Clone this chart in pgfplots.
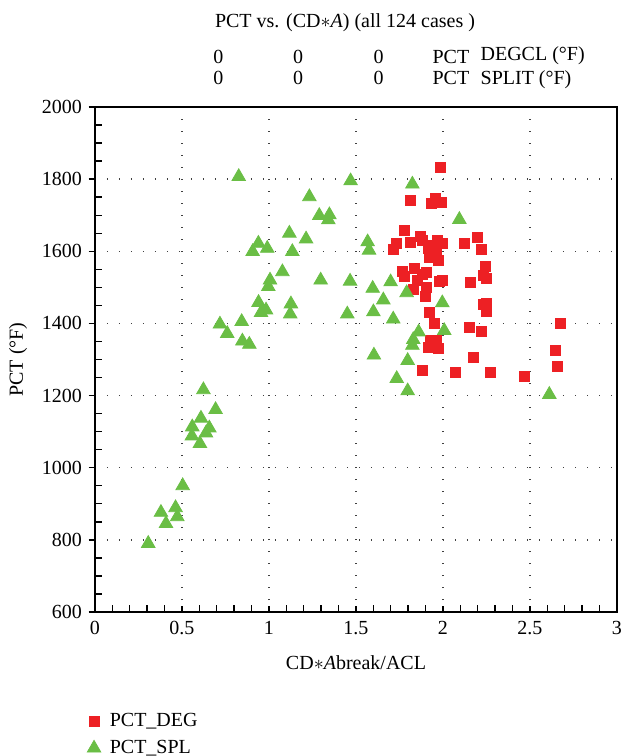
\documentclass[border=0pt]{standalone}
\usepackage{fontspec}
\setmainfont{Liberation Serif}
\usepackage{pgfplots}
\pgfplotsset{compat=1.18}
\definecolor{pctred}{RGB}{237,32,36}
\definecolor{pctgreen}{RGB}{106,190,69}
\begin{document}
\begin{tikzpicture}
\begin{axis}[
  name=ax,
  at={(0,0)}, anchor=south west,
  scale only axis,
  width=261pt, height=252.5pt,
  xmin=0, xmax=3, ymin=600, ymax=2000,
  xtick={0,0.5,...,3}, ytick={600,800,...,2000},
  minor x tick num=4, minor y tick num=3,
  tick pos=left,
  tick align=inside,
  major tick length=3.2pt, minor tick length=3.5pt,
  major y tick style={xshift=-3.2pt},
  yticklabel style={xshift=-3pt},
  xticklabel style={yshift=-1pt},
  axis line style={line width=0.8pt},
  every tick/.style={black, line width=0.7pt},
  grid=major,
  major grid style={black!75, line width=0.7pt, dash pattern=on 0.6pt off 5.4pt},
  /pgf/number format/assume math mode=true,
  /pgf/number format/1000 sep={},
  xlabel={CD$\ast$\textit{A}break/ACL},
  ylabel={PCT (°F)},
  xlabel style={at={(axis description cs:0.5,-0.101)}, anchor=center},
  ylabel style={at={(axis description cs:-0.1475,0.5)}, anchor=center, rotate=0},
  legend style={at={(axis description cs:-0.027,-0.183)}, anchor=north west, draw=none, fill=none, row sep=1.5pt, column sep=2.5pt, font=\normalsize},
  legend cell align=left,
  clip=false,
]
\addplot[only marks, mark=square*, mark size=2.5pt, color=pctred] table {
x y
1.983 1833
1.812 1740
1.954 1747
1.931 1733
1.992 1736
1.776 1658
1.872 1641
1.881 1631
1.810 1625
1.734 1621
1.713 1604
1.969 1631
1.998 1622
2.125 1622
2.195 1639
2.222 1606
1.916 1607
1.964 1595
1.922 1583
1.973 1576
1.940 1615
1.950 1590
1.768 1544
1.776 1530
1.837 1553
1.906 1542
1.883 1536
1.851 1518
1.977 1516
1.998 1520
1.829 1493
1.904 1500
1.900 1474
2.155 1514
2.241 1559
2.232 1532
2.251 1525
1.921 1431
1.948 1400
2.232 1453
2.251 1456
2.251 1433
2.153 1389
2.222 1378
1.925 1354
1.964 1354
1.916 1333
1.975 1332
1.945 1340
2.176 1306
1.883 1271
2.073 1265
2.270 1265
2.466 1254
2.676 1400
2.644 1326
2.659 1282
};
\addlegendentry{PCT\_DEG}
\addplot[only marks, mark=triangle*, mark size=3.9pt, color=pctgreen] table {
x y
0.826 1807
1.469 1795
1.232 1751
1.289 1699
1.347 1701
1.341 1687
1.117 1650
1.213 1634
0.939 1622
0.990 1608
0.906 1599
1.134 1599
1.567 1626
1.575 1603
1.077 1543
1.006 1520
0.996 1502
1.297 1520
1.466 1517
1.596 1497
0.940 1458
0.983 1437
0.954 1430
1.126 1454
1.122 1426
1.450 1426
1.600 1432
0.718 1398
0.843 1405
0.760 1372
0.847 1351
0.887 1342
0.623 1216
0.693 1161
0.609 1137
0.559 1113
0.657 1110
0.557 1088
0.638 1096
0.603 1067
0.504 950
0.379 876
0.463 889
0.473 864
0.408 845
0.306 790
1.824 1786
2.094 1688
1.699 1515
1.791 1485
1.657 1465
1.996 1457
1.714 1412
1.860 1376
2.007 1380
1.829 1355
1.824 1339
1.603 1312
1.797 1297
1.734 1247
1.797 1213
2.611 1203
};
\addlegendentry{PCT\_SPL}
\node[anchor=base] at (axis description cs:0.479,1.158) {PCT vs. (CD$\ast$\textit{A}) (all 124 cases )};
\node[anchor=base west, inner sep=0pt] at (axis description cs:0.226,1.087) {0};
\node[anchor=base west, inner sep=0pt] at (axis description cs:0.379,1.087) {0};
\node[anchor=base west, inner sep=0pt] at (axis description cs:0.533,1.087) {0};
\node[anchor=base west, inner sep=0pt] at (axis description cs:0.646,1.087) {PCT};
\node[anchor=base west, inner sep=0pt] at (axis description cs:0.738,1.092) {DEGCL (°F)};
\node[anchor=base west, inner sep=0pt] at (axis description cs:0.226,1.0436) {0};
\node[anchor=base west, inner sep=0pt] at (axis description cs:0.379,1.0436) {0};
\node[anchor=base west, inner sep=0pt] at (axis description cs:0.533,1.0436) {0};
\node[anchor=base west, inner sep=0pt] at (axis description cs:0.646,1.0436) {PCT};
\node[anchor=base west, inner sep=0pt] at (axis description cs:0.738,1.0436) {SPLIT (°F)};
\end{axis}
\pgfresetboundingbox
\useasboundingbox (ax.south west) ++(-47.5pt,-72pt) rectangle ++(311pt,378pt);
\end{tikzpicture}
\end{document}
